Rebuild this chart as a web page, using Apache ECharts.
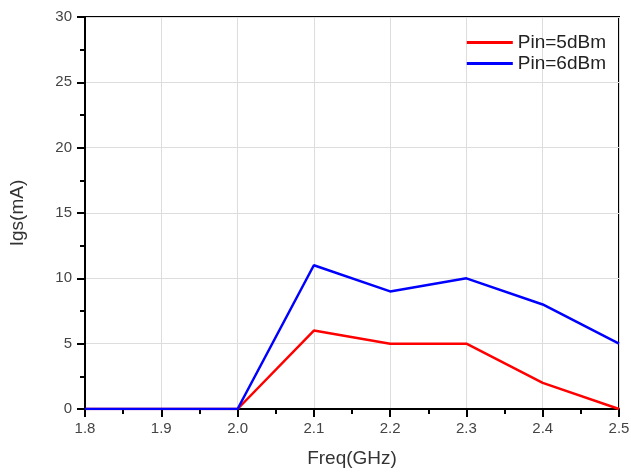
<!DOCTYPE html>
<html><head><meta charset="utf-8">
<script src="https://cdn.jsdelivr.net/npm/echarts@6/dist/echarts.min.js"></script>
<style>html,body{margin:0;padding:0;background:#fff}#c{width:631px;height:473px}</style>
</head><body><div id="c"></div>
<script>
const freq = [1.8, 1.9, 2.0, 2.1, 2.2, 2.3, 2.4, 2.5];
const pin5 = [0, 0, 0, 6, 5, 5, 2, 0];
const pin6 = [0, 0, 0, 11, 9, 10, 8, 5];
const seriesNames = ['Pin=5dBm', 'Pin=6dBm'];
const chart = echarts.init(document.getElementById('c'));
const font = 'Liberation Sans, Arial, sans-serif';
chart.setOption({
  animation: false,
  grid: {left: 85, right: 12, top: 17, bottom: 64, outerBoundsMode: 'none', containLabel: false,
         show: true, borderColor: '#000', borderWidth: 2},
  legend: {
    top: 28, right: 20, orient: 'vertical', itemWidth: 46, itemHeight: 3, itemGap: 2,
    textStyle: {fontFamily: font, fontSize: 19, color: '#222'},
    data: seriesNames.map(n => ({name: n, icon: 'rect'}))
  },
  xAxis: {
    type: 'value', min: 1.8, max: 2.5, interval: 0.1,
    name: 'Freq(GHz)', nameLocation: 'middle', nameGap: 40,
    nameTextStyle: {fontFamily: font, fontSize: 19, color: '#333'},
    axisLine: {lineStyle: {color: '#000', width: 2}},
    axisTick: {length: 8, lineStyle: {color: '#000', width: 2}},
    minorTick: {show: true, splitNumber: 2, length: 5, lineStyle: {color: '#000', width: 2}},
    axisLabel: {fontFamily: font, fontSize: 15, color: '#444', margin: 12, formatter: v => v.toFixed(1)},
    splitLine: {show: true, lineStyle: {color: '#ddd', width: 1}}
  },
  yAxis: {
    type: 'value', min: 0, max: 30, interval: 5,
    name: 'Igs(mA)', nameLocation: 'middle', nameGap: 58,
    nameTextStyle: {fontFamily: font, fontSize: 19, color: '#333'},
    axisLine: {lineStyle: {color: '#000', width: 2}},
    axisTick: {length: 8, lineStyle: {color: '#000', width: 2}},
    minorTick: {show: true, splitNumber: 2, length: 5, lineStyle: {color: '#000', width: 2}},
    axisLabel: {fontFamily: font, fontSize: 15, color: '#444', margin: 13},
    splitLine: {show: true, lineStyle: {color: '#ddd', width: 1}}
  },
  series: [
    {name: seriesNames[0], type: 'line', data: freq.map((f, i) => [f, pin5[i]]), showSymbol: false,
     lineStyle: {color: '#ff0000', width: 2.5}, itemStyle: {color: '#ff0000'}},
    {name: seriesNames[1], type: 'line', data: freq.map((f, i) => [f, pin6[i]]), showSymbol: false,
     lineStyle: {color: '#0000ff', width: 2.5}, itemStyle: {color: '#0000ff'}}
  ]
});
</script></body></html>
